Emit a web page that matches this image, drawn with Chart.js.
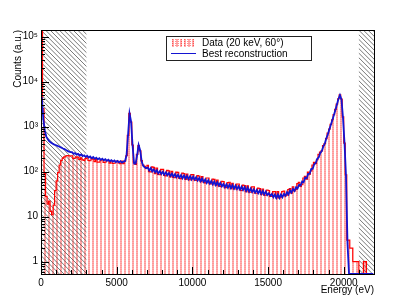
<!DOCTYPE html>
<html>
<head>
<meta charset="utf-8">
<script src="https://cdn.jsdelivr.net/npm/chart.js@4.4.1/dist/chart.umd.min.js"></script>
<style>
  html, body { margin: 0; padding: 0; background: #fff; }
  canvas { display: block; }
</style>
</head>
<body>
<canvas id="spectrum" width="415" height="305"></canvas>
<script>
// histogram binning (eV) and axis ranges
const binWidth = 100;
const xMax = 22000;
const yMin = 0.53;
const yMax = 1.4e5;
const xTicks = [0, 5000, 10000, 15000, 20000];
const yTicks = [1, 10, 100, 1000, 10000, 100000];
const hatchBands = [[0, 3000], [21000, 22000]];

// measured spectrum, one value per 100 eV bin
const dataCounts = [
  130000, 2500, 90, 28, 19, 22, 13, 11, 18, 38,
  62, 95, 140, 178, 200, 212, 222, 226, 224, 222,
  225, 196, 200, 212, 210, 186, 201, 182, 178, 195,
  201, 178, 174, 195, 189, 167, 188, 163, 162, 179,
  183, 160, 162, 176, 177, 154, 174, 152, 153, 168,
  171, 155, 150, 170, 150, 172, 225, 640, 1980, 1250,
  390, 160, 145, 240, 380, 290, 175, 140, 130, 118,
  138, 100, 98, 128, 124, 90, 120, 87, 85, 112,
  112, 82, 80, 106, 104, 76, 101, 74, 73, 97,
  96, 71, 70, 92, 90, 67, 88, 66, 65, 86,
  86, 65, 64, 81, 79, 60, 77, 58, 56, 72,
  72, 54, 53, 68, 67, 50, 65, 48, 47, 61,
  60, 44, 44, 57, 58, 42, 55, 41, 41, 53,
  53, 39, 38, 50, 49, 36, 48, 35, 35, 46,
  46, 33, 33, 43, 42, 31, 41, 30, 30, 39,
  38, 28, 28, 36, 36, 26, 36, 26, 27, 36,
  37, 29, 30, 40, 42, 33, 46, 37, 40, 54,
  58, 47, 51, 72, 78, 68, 97, 88, 104, 140,
  160, 150, 185, 240, 270, 290, 380, 420, 540, 720,
  880, 1120, 1420, 1850, 2400, 3150, 4150, 5050, 4100, 1650,
  430, 85, 3, 3, 2, 2, 1, 1, 1, 1,
  0, 0, 0, 1, 1, 0, 0, 0, 0, 0
];

// best reconstruction, same binning
const recoCounts = [
  4500, 1500, 820, 600, 520, 470, 445, 420, 402, 390,
  378, 365, 352, 340, 326, 316, 302, 288, 278, 270,
  270, 248, 258, 238, 248, 228, 241, 220, 230, 212,
  224, 205, 216, 198, 210, 192, 204, 187, 198, 182,
  193, 178, 188, 173, 183, 169, 179, 166, 176, 163,
  172, 160, 170, 158, 166, 170, 230, 650, 1950, 1300,
  380, 150, 150, 230, 390, 300, 170, 135, 124, 119,
  124, 106, 119, 101, 112, 96, 107, 91, 102, 88,
  99, 85, 96, 83, 93, 80, 90, 77, 88, 75,
  85, 73, 83, 71, 82, 70, 80, 68, 79, 67,
  77, 66, 75, 63, 72, 61, 70, 59, 67, 56,
  64, 54, 62, 52, 60, 50, 58, 49, 56, 47,
  53, 45, 52, 44, 51, 43, 50, 42, 49, 41,
  47, 40, 46, 39, 45, 37, 44, 36, 42, 35,
  40, 34, 39, 33, 38, 32, 37, 31, 36, 30,
  33, 29, 32, 27, 31, 26, 31, 26, 31, 27,
  32, 29, 35, 31, 38, 34, 41, 37, 45, 42,
  51, 49, 60, 58, 73, 71, 89, 90, 114, 116,
  146, 155, 192, 208, 258, 287, 360, 420, 550, 670,
  870, 1100, 1400, 1800, 2350, 3100, 4100, 5000, 4000, 1600,
  450, 80, 2.5, 0, 0, 0, 0, 0, 0, 0,
  0, 0, 0, 0, 0, 0, 0, 0, 0, 0
];

const canvas = document.getElementById('spectrum');
const ctx = canvas.getContext('2d');

Chart.defaults.font.family = '"Liberation Sans", Arial, Helvetica, sans-serif';
Chart.defaults.font.size = 10;
Chart.defaults.color = '#000';

// vertical red stripes like ROOT's fill style
function stripes() {
  const c = document.createElement('canvas');
  c.width = 4; c.height = 4;
  const g = c.getContext('2d');
  g.fillStyle = 'rgba(255,40,40,0.36)';
  g.fillRect(0, 0, 2, 4);
  g.fillStyle = 'rgba(255,40,40,0.16)';
  g.fillRect(0, 1, 2, 1);
  g.fillRect(0, 3, 2, 1);
  return ctx.createPattern(c, 'repeat');
}
const redFill = stripes();

// empty bins are drawn at the bottom of the frame, like ROOT does on log axes
const toPoints = arr => arr.map((v, i) => ({ x: i * binWidth + binWidth / 2, y: Math.max(v, yMin) }));

const sup = ['\u2070', '\u00b9', '\u00b2', '\u00b3', '\u2074', '\u2075'];
function logLabel(v) {
  const e = Math.round(Math.log10(v));
  if (e === 0) return '1';
  if (e === 1) return '10';
  return '10' + sup[e];
}

const hatchPlugin = {
  id: 'hatch',
  beforeDatasetsDraw(chart) {
    const { ctx, chartArea: a, scales: { x } } = chart;
    const h = a.bottom - a.top;
    ctx.save();
    ctx.strokeStyle = '#555';
    ctx.lineWidth = 0.8;
    hatchBands.forEach(([lo, hi]) => {
      const x0 = x.getPixelForValue(lo), x1 = x.getPixelForValue(hi);
      ctx.save();
      ctx.beginPath();
      ctx.rect(x0, a.top, x1 - x0, h);
      ctx.clip();
      ctx.beginPath();
      for (let s = x0 - h; s < x1 + 5; s += 4.6) {
        ctx.moveTo(s, a.top);
        ctx.lineTo(s + h, a.bottom);
      }
      ctx.stroke();
      ctx.restore();
    });
    ctx.restore();
  }
};

const framePlugin = {
  id: 'frame',
  afterDatasetsDraw(chart) {
    const { ctx, chartArea: a, scales: { x, y } } = chart;
    ctx.save();
    ctx.strokeStyle = '#000';
    ctx.lineWidth = 1;
    ctx.beginPath();
    // x ticks pointing inward
    for (let v = 0; v <= xMax; v += 1000) {
      const px = Math.round(x.getPixelForValue(v)) + 0.5;
      const len = v % 5000 === 0 ? 7 : 4;
      ctx.moveTo(px, a.bottom);
      ctx.lineTo(px, a.bottom - len);
    }
    // y ticks, decades and 2..9
    for (let d = -1; d <= 5; d++) {
      for (let m = 1; m <= 9; m++) {
        const v = m * Math.pow(10, d);
        if (v < yMin || v > yMax) continue;
        const py = Math.round(y.getPixelForValue(v)) + 0.5;
        const len = m === 1 ? 8 : 4;
        ctx.moveTo(a.left, py);
        ctx.lineTo(a.left + len, py);
      }
    }
    ctx.stroke();
    ctx.strokeRect(Math.round(a.left) + 0.5, Math.round(a.top) + 0.5,
      Math.round(a.right - a.left), Math.round(a.bottom - a.top));
    ctx.restore();
  }
};

const legendPlugin = {
  id: 'rootLegend',
  afterDraw(chart) {
    const { ctx } = chart;
    const data = chart.data.datasets[1], reco = chart.data.datasets[0];
    ctx.save();
    ctx.fillStyle = '#fff';
    ctx.fillRect(166, 36, 146, 25);
    ctx.strokeStyle = '#222';
    ctx.lineWidth = 1;
    ctx.strokeRect(166.5, 36.5, 145, 24);
    // data swatch
    ctx.fillStyle = data.backgroundColor;
    ctx.fillRect(171, 39, 25, 8);
    ctx.strokeStyle = 'rgba(255,0,0,0.45)';
    ctx.setLineDash([1, 1]);
    ctx.beginPath();
    for (let sx = 172; sx < 196; sx += 3) {
      ctx.moveTo(sx + 0.5, 39); ctx.lineTo(sx + 0.5, 47);
    }
    ctx.stroke();
    ctx.setLineDash([]);
    // reco swatch
    ctx.strokeStyle = reco.borderColor;
    ctx.lineWidth = 1;
    ctx.beginPath();
    ctx.moveTo(171, 53.5); ctx.lineTo(196, 53.5);
    ctx.stroke();
    ctx.fillStyle = '#000';
    ctx.font = '10px "Liberation Sans", Arial, sans-serif';
    ctx.textBaseline = 'middle';
    ctx.textAlign = 'left';
    ctx.fillText(data.label, 202, 43);
    ctx.fillText(reco.label, 202, 54);
    ctx.restore();
  }
};

new Chart(ctx, {
  type: 'line',
  data: {
    datasets: [
      {
        label: 'Best reconstruction',
        data: toPoints(recoCounts),
        borderColor: 'rgb(20,20,210)',
        borderWidth: 1.8,
        pointRadius: 0,
        fill: false,
        tension: 0
      },
      {
        label: 'Data (20 keV, 60\u00b0)',
        data: toPoints(dataCounts),
        borderColor: '#ff0000',
        borderWidth: 1.2,
        backgroundColor: redFill,
        pointRadius: 0,
        stepped: 'middle',
        fill: 'start'
      }
    ]
  },
  options: {
    responsive: false,
    animation: false,
    layout: { padding: { left: 0, top: 30, right: 41, bottom: 0 } },
    plugins: {
      legend: { display: false },
      tooltip: { enabled: false },
      filler: { drawTime: 'beforeDatasetsDraw' }
    },
    scales: {
      x: {
        type: 'linear',
        min: 0,
        max: xMax,
        grid: { display: false, drawTicks: false },
        border: { display: false },
        afterBuildTicks: s => { s.ticks = xTicks.map(v => ({ value: v })); },
        afterFit: s => { s.height = 31; },
        ticks: { maxRotation: 0, padding: 3, callback: v => String(v) },
        title: { display: true, text: 'Energy (eV)', align: 'end', padding: { top: 0, bottom: 9 } }
      },
      y: {
        type: 'logarithmic',
        min: yMin,
        max: yMax,
        grid: { display: false, drawTicks: false },
        border: { display: false },
        afterBuildTicks: s => { s.ticks = yTicks.map(v => ({ value: v })); },
        afterFit: s => { s.width = 41; },
        ticks: { padding: 3, callback: v => logLabel(v) },
        title: { display: true, text: 'Counts (a.u.)', align: 'end', padding: { top: 12, bottom: 0 } }
      }
    }
  },
  plugins: [hatchPlugin, framePlugin, legendPlugin]
});
</script>
</body>
</html>
